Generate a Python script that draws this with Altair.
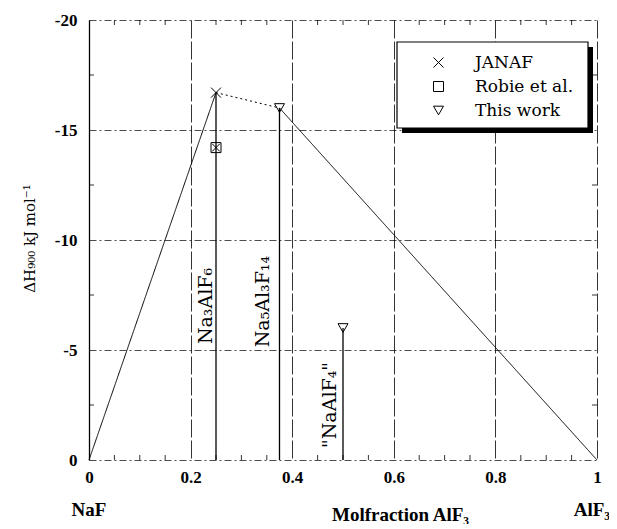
import altair as alt
import pandas as pd

# ---------------- data ----------------
line_x = [0.0, 0.25, 0.375, 1.0]
line_y = [0.0, -16.7, -16.0, 0.0]
line_style = ["solid", "dotted", "solid"]   # segment i joins point i and i+1

janaf_x = [0.25]
janaf_y = [-16.7]
robie_x = [0.25]
robie_y = [-14.2]
this_x = [0.375, 0.5]
this_y = [-16.0, -6.0]

drop_x = [0.25, 0.375, 0.5]
drop_top = [-16.7, -16.0, -6.0]

compound_names = ["Na₃AlF₆", "Na₅Al₃F₁₄", "\"NaAlF₄\""]
compound_x = [0.230, 0.343, 0.474]
compound_y = [-7.0, -7.2, -2.5]

end_names = ["NaF", "AlF₃"]
end_x = [0.0, 0.99]

x_ticks = [0, 0.2, 0.4, 0.6, 0.8, 1]
y_ticks = [0, -5, -10, -15, -20]
minor_x = [0.05, 0.1, 0.15, 0.25, 0.3, 0.35, 0.45, 0.5, 0.55,
           0.65, 0.7, 0.75, 0.85, 0.9, 0.95]
minor_y = [-2.5, -7.5, -12.5, -17.5]

sources = ["JANAF", "Robie et al.", "This work"]

# ---------------- tables ----------------
seg_df = pd.DataFrame({"x": line_x[:-1], "y": line_y[:-1],
                       "x2": line_x[1:], "y2": line_y[1:],
                       "style": line_style})
pts_df = pd.DataFrame({
    "x": janaf_x + robie_x + this_x,
    "y": janaf_y + robie_y + this_y,
    "source": [sources[0]] * len(janaf_x) + [sources[1]] * len(robie_x)
              + [sources[2]] * len(this_x),
})
robie_df = pd.DataFrame({"x": robie_x, "y": robie_y})
drop_df = pd.DataFrame({"x": drop_x, "y": drop_top, "y0": [0.0] * len(drop_x)})
comp_df = pd.DataFrame({"x": compound_x, "y": compound_y, "name": compound_names})
end_df = pd.DataFrame({"x": end_x, "name": end_names})
mx_df = pd.DataFrame({"x": minor_x})
my_df = pd.DataFrame({"y": minor_y})
one_df = pd.DataFrame({"a": [0]})

W, H = 508, 440
XPATH = "M-1,-1L1,1M1,-1L-1,1"
SERIF = "Liberation Serif"
WIDE = "DejaVu Serif"

# legend frame (pixels inside the plot area)
BOX_L, BOX_T, BOX_R, BOX_B = 308, 22, 499, 108
SHADOW = 5

xs = alt.Scale(domain=[0, 1], nice=False, zero=False)
ys = alt.Scale(domain=[0, -20], nice=False, zero=False)

x_axis = alt.Axis(
    values=x_ticks, labelExpr="'' + datum.value", labelFlush=False,
    grid=True, gridColor="black", gridWidth=0.8, gridDash=[18, 3], gridOpacity=1,
    ticks=False, tickSize=0, domain=False,
    labelFont=SERIF, labelFontWeight="bold", labelFontSize=17, labelColor="black",
    labelPadding=9,
    title="Molfraction AlF₃", titleFont=SERIF, titleFontWeight="bold",
    titleFontSize=19, titleColor="black", titleX=311, titleY=60,
    titleBaseline="alphabetic", titleAlign="center",
)
y_axis = alt.Axis(
    values=y_ticks, labelExpr="datum.value == 0 ? '0' : '-' + abs(datum.value)",
    labelFlush=False,
    grid=True, gridColor="black", gridWidth=0.7, gridDash=[7, 3, 2, 3], gridOpacity=1,
    ticks=False, tickSize=0, domain=True, domainColor="black", domainWidth=1.3,
    labelFont=SERIF, labelFontWeight="bold", labelFontSize=17, labelColor="black",
    labelPadding=12,
    title="ΔH₉₀₀ kJ mol⁻¹", titleFont=WIDE, titleFontWeight="normal",
    titleFontSize=15, titleColor="black", titleX=-60, titleY=218,
    titleAngle=270, titleAlign="center", titleBaseline="middle",
)

segments = alt.Chart(seg_df).mark_rule(color="black", strokeWidth=1).encode(
    x=alt.X("x:Q", scale=xs, axis=x_axis),
    y=alt.Y("y:Q", scale=ys, axis=y_axis),
    x2="x2:Q", y2="y2:Q",
    strokeDash=alt.StrokeDash("style:N", scale=alt.Scale(
        domain=["solid", "dotted"], range=[[1, 0], [2, 3]]), legend=None),
)

drops = alt.Chart(drop_df).mark_rule(color="black", strokeWidth=1.3).encode(
    x="x:Q", y="y:Q", y2="y0:Q")

legend = alt.Legend(
    orient="none", legendX=341, legendY=34, title=None,
    padding=0, symbolOffset=0, labelOffset=28, rowPadding=6, symbolSize=100,
    symbolStrokeWidth=1, symbolStrokeColor="black", symbolFillColor="transparent",
    labelFont=WIDE, labelFontSize=17, labelColor="black", labelFontWeight="normal",
)

points = alt.Chart(pts_df).mark_point(filled=False, color="black",
                                      strokeWidth=1, size=100, opacity=1).encode(
    x="x:Q", y="y:Q",
    shape=alt.Shape("source:N", scale=alt.Scale(
        domain=sources, range=[XPATH, "square", "triangle-down"]), legend=legend),
)

robie_cross = alt.Chart(robie_df).mark_point(
    filled=False, color="black", strokeWidth=1, size=60, shape=XPATH, opacity=1
).encode(x="x:Q", y="y:Q")

labels = alt.Chart(comp_df).mark_text(
    angle=270, font=WIDE, fontSize=19, color="black", align="center", baseline="middle"
).encode(x="x:Q", y="y:Q", text="name:N")

ends = alt.Chart(end_df).mark_text(
    font=SERIF, fontSize=19, fontWeight="bold", color="black",
    align="center", baseline="alphabetic"
).encode(x="x:Q", y=alt.value(H + 56), text="name:N")

tick_bottom = alt.Chart(mx_df).mark_rule(color="black", strokeWidth=0.8).encode(
    x="x:Q", y=alt.value(H), y2=alt.value(H - 5))
tick_top = alt.Chart(mx_df).mark_rule(color="black", strokeWidth=0.8).encode(
    x="x:Q", y=alt.value(0), y2=alt.value(5))
tick_left = alt.Chart(my_df).mark_rule(color="black", strokeWidth=0.8).encode(
    y="y:Q", x=alt.value(0), x2=alt.value(5))
tick_right = alt.Chart(my_df).mark_rule(color="black", strokeWidth=0.8).encode(
    y="y:Q", x=alt.value(W), x2=alt.value(W - 5))

shadow = alt.Chart(one_df).mark_rect(color="black").encode(
    x=alt.value(BOX_L + SHADOW), x2=alt.value(BOX_R + SHADOW),
    y=alt.value(BOX_T + SHADOW), y2=alt.value(BOX_B + SHADOW))
box = alt.Chart(one_df).mark_rect(fill="white", stroke="black", strokeWidth=1.2).encode(
    x=alt.value(BOX_L), x2=alt.value(BOX_R),
    y=alt.value(BOX_T), y2=alt.value(BOX_B))

chart = alt.layer(
    segments, drops, tick_bottom, tick_top, tick_left, tick_right,
    shadow, box, points, robie_cross, labels, ends,
).properties(
    width=W, height=H,
    autosize=alt.AutoSizeParams(type="none"),
    padding={"left": 81, "top": 12, "right": 12, "bottom": 64},
    background="white",
).configure_view(stroke=None).configure_legend(labelFont=WIDE)

chart.save("out.html", embed_options={"renderer": "svg", "actions": False})
